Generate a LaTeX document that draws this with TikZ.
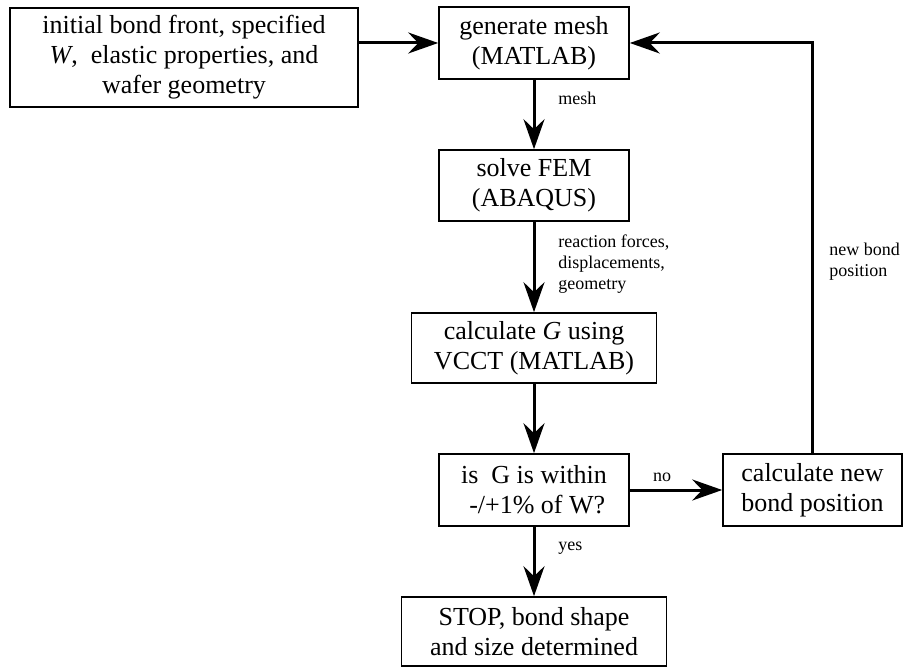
\documentclass[tikz,border=0pt]{standalone}
\usepackage{fontspec}
\setmainfont{Liberation Serif}
\usetikzlibrary{arrows.meta}

\tikzset{
	stepbox/.style={draw, line width=0.8pt, align=center, inner sep=0pt,
		font=\fontsize{13}{15}\selectfont},
	flow/.style={line width=1.5pt, -{Stealth[length=15pt,width=10.5pt,inset=5pt]}},
	lbl/.style={inner sep=0pt, align=left, anchor=west, font=\fontsize{9}{10.5}\selectfont}
}

\begin{document}
\begin{tikzpicture}[x=0.5pt,y=-0.5pt]
	\useasboundingbox (0,0) rectangle (903,667);

	\node[stepbox, minimum width=174pt, minimum height=49.5pt] (init) at (184,57.5)
		{initial bond front, specified\\ \textit{W},\ \ elastic properties, and\\ wafer geometry};
	\node[stepbox, minimum width=95pt, minimum height=36pt] (mesh) at (534,43) {generate mesh\\ (MATLAB)};
	\node[stepbox, minimum width=95pt, minimum height=35.5pt] (fem) at (534,185.5) {solve FEM\\ (ABAQUS)};
	\node[stepbox, minimum width=122.5pt, minimum height=35pt] (vcct) at (534,348) {calculate \textit{G} using\\ VCCT (MATLAB)};
	\node[stepbox, minimum width=95pt, minimum height=36pt] (check) at (534,490) {is\ \ G is within\\ \ -/+1\% of W?};
	\node[stepbox, minimum width=89.5pt, minimum height=36pt] (newpos) at (812.5,490) {calculate new\\ bond position};
	\node[stepbox, minimum width=132.5pt, minimum height=34.5pt] (stop) at (534,631.5) {STOP, bond shape\\ and size determined};

	\draw[flow] (mesh.west -| init.east) -- (mesh.west);
	\draw[flow] (mesh) -- (fem);
	\draw[flow] (fem) -- (vcct);
	\draw[flow] (vcct) -- (check);
	\draw[flow] (check) -- (newpos);
	\draw[flow] (check) -- (stop);
	\draw[flow] (newpos.north) |- (mesh.east);

	% edge labels
	\node[lbl] (lmesh) at (558,98) {mesh};
	\node[lbl] (lforces) at (558,264) {reaction forces,\\ displacements,\\ geometry};
	\node[lbl, anchor=center] (lno) at (662,477) {no};
	\node[lbl] (lyes) at (558,548) {yes};
	\node[lbl] (lnew) at (829,262) {new bond\\ position};
\end{tikzpicture}
\end{document}
